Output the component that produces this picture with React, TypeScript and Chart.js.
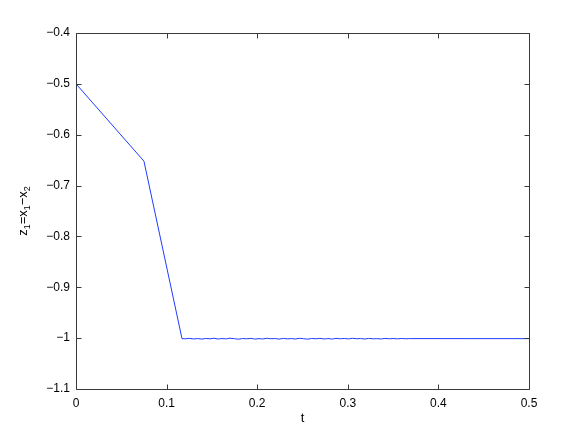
import React, { useEffect, useRef } from "react";
import { Chart, registerables } from "chart.js";

Chart.register(...registerables);

const tValues: number[] = [
  0, 0.075, 0.117,
  0.121, 0.125, 0.130, 0.134, 0.139, 0.143, 0.148, 0.152, 0.157, 0.161,
  0.166, 0.170, 0.175, 0.179, 0.184, 0.188, 0.193, 0.197, 0.202, 0.206,
  0.211, 0.215, 0.220, 0.224, 0.229, 0.233, 0.238, 0.242, 0.247, 0.251,
  0.256, 0.260, 0.265, 0.269, 0.274, 0.278, 0.283, 0.287, 0.292, 0.296,
  0.301, 0.305, 0.310, 0.314, 0.319, 0.323, 0.328, 0.332, 0.337, 0.341,
  0.346, 0.350, 0.355, 0.359, 0.364, 0.368, 0.5,
];
const zValues: number[] = [
  -0.5, -0.652, -1.001,
  -1.0012, -1.0004, -1.0016, -1.0009, -1.0019, -1.0006, -1.0013, -1.0003, -1.0017, -1.0008,
  -1.0014, -1.0001, -1.0011, -1.0021, -1.0007, -1.0013, -1.0004, -1.0018, -1.001, -1.0016,
  -1.0002, -1.0012, -1.0008, -1.0019, -1.0005, -1.0014, -1.0009, -1.0017, -1.0003, -1.0011,
  -1.002, -1.0006, -1.0013, -1.0004, -1.0016, -1.0009, -1.0018, -1.0005, -1.0012, -1.0007,
  -1.0015, -1.0003, -1.0012, -1.0008, -1.0017, -1.0005, -1.0013, -1.001, -1.0016, -1.0006,
  -1.0012, -1.0008, -1.0014, -1.0007, -1.0012, -1.0009, -1.001,
];
const xTicks: number[] = [0, 0.1, 0.2, 0.3, 0.4, 0.5];
const yTicks: number[] = [-1.1, -1, -0.9, -0.8, -0.7, -0.6, -0.5, -0.4];
const xTitle = "t";

const FONT = "Liberation Sans, Arial, Helvetica, sans-serif";

function fmt(v: number): string {
  const r = Math.round(v * 10) / 10;
  const s = Number.isInteger(r) ? String(Math.abs(r)) : Math.abs(r).toFixed(1);
  return (r < 0 ? "\u2212" : "") + s;
}

const boxPlugin = {
  id: "matlabBox",
  afterDraw(chart: any) {
    const { ctx, chartArea } = chart;
    const { left, right, top, bottom } = chartArea;
    const xs = chart.scales.x;
    const ys = chart.scales.y;
    ctx.save();
    ctx.strokeStyle = "#3a3a3a";
    ctx.lineWidth = 1;
    const L = Math.round(left) + 0.5;
    const R = Math.round(right) + 0.5;
    const T = Math.round(top) + 0.5;
    const B = Math.round(bottom) + 0.5;
    ctx.beginPath();
    ctx.rect(L, T, R - L, B - T);
    ctx.stroke();
    const tl = 5;
    ctx.beginPath();
    for (const v of xTicks) {
      const px = Math.round(xs.getPixelForValue(v)) + 0.5;
      ctx.moveTo(px, B);
      ctx.lineTo(px, B - tl);
      ctx.moveTo(px, T);
      ctx.lineTo(px, T + tl);
    }
    for (const v of yTicks) {
      const py = Math.round(ys.getPixelForValue(v)) + 0.5;
      ctx.moveTo(L, py);
      ctx.lineTo(L + tl, py);
      ctx.moveTo(R, py);
      ctx.lineTo(R - tl, py);
    }
    ctx.stroke();

    // y-axis label: z1 = x1 − x2 with subscripts
    ctx.fillStyle = "#000";
    ctx.translate(24, (top + bottom) / 2);
    ctx.rotate(-Math.PI / 2);
    const parts: [string, boolean][] = [
      ["z", false], ["1", true], ["=x", false], ["1", true], ["\u2212x", false], ["2", true],
    ];
    const big = `13px ${FONT}`;
    const small = `9px ${FONT}`;
    let total = 0;
    for (const [s, sub] of parts) {
      ctx.font = sub ? small : big;
      total += ctx.measureText(s).width;
    }
    let x = -total / 2;
    ctx.textBaseline = "alphabetic";
    ctx.textAlign = "left";
    for (const [s, sub] of parts) {
      ctx.font = sub ? small : big;
      ctx.fillText(s, x, sub ? 6 : 3);
      x += ctx.measureText(s).width;
    }
    ctx.restore();
  },
};

export default function App() {
  const ref = useRef<HTMLCanvasElement>(null);
  useEffect(() => {
    if (!ref.current) return;
    const data = tValues.map((t, i) => ({ x: t, y: zValues[i] }));
    const chart = new Chart(ref.current, {
      type: "line",
      data: {
        datasets: [
          {
            data,
            borderColor: "rgb(30,60,255)",
            borderWidth: 1,
            pointRadius: 0,
            tension: 0,
            fill: false,
          },
        ],
      },
      options: {
        animation: false,
        responsive: false,
        events: [],
        layout: { padding: { left: 0, right: 55, top: 33, bottom: 0 } },
        plugins: { legend: { display: false }, tooltip: { enabled: false } },
        scales: {
          x: {
            type: "linear",
            min: 0,
            max: 0.5,
            afterBuildTicks: (s: any) => {
              s.ticks = xTicks.map((v) => ({ value: v }));
            },
            afterFit: (s: any) => {
              s.height = 50;
            },
            border: { display: false },
            grid: { display: false, drawTicks: false },
            ticks: {
              color: "#000",
              font: { family: FONT, size: 12 },
              padding: 7,
              maxRotation: 0,
              callback: (v: any) => fmt(Number(v)),
            },
            title: {
              display: true,
              text: xTitle,
              color: "#000",
              font: { family: FONT, size: 13 },
              padding: { top: 0, bottom: 13 },
            },
          },
          y: {
            type: "linear",
            min: -1.1,
            max: -0.4,
            afterBuildTicks: (s: any) => {
              s.ticks = yTicks.map((v) => ({ value: v }));
            },
            afterFit: (s: any) => {
              s.width = 76;
            },
            border: { display: false },
            grid: { display: false, drawTicks: false },
            ticks: {
              color: "#000",
              font: { family: FONT, size: 12 },
              padding: 6,
              callback: (v: any) => fmt(Number(v)),
            },
          },
        },
      },
      plugins: [boxPlugin],
    });
    return () => chart.destroy();
  }, []);
  return (
    <div style={{ position: "fixed", left: 0, top: 0, width: 584, height: 439, background: "#fff" }}>
      <canvas ref={ref} width={584} height={439} style={{ display: "block" }} />
    </div>
  );
}
